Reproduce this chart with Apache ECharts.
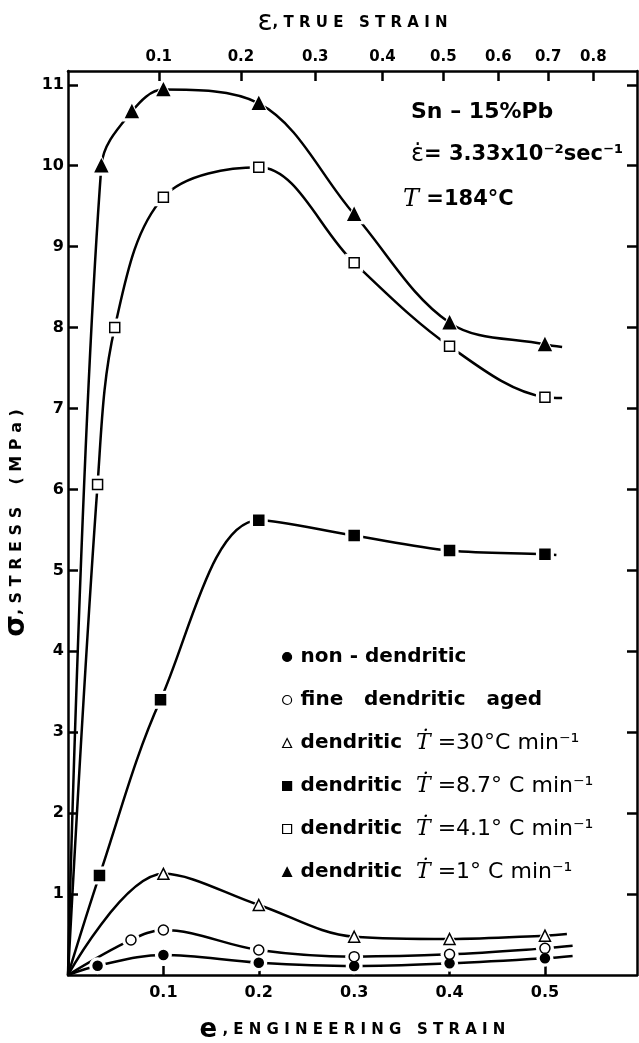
<!DOCTYPE html>
<html>
<head>
<meta charset="utf-8">
<script src="https://cdn.jsdelivr.net/npm/echarts@6/dist/echarts.min.js"></script>
<style>
  html, body { margin: 0; padding: 0; background: #fff; }
  #chart { width: 639px; height: 1043px; }
</style>
</head>
<body>
<div id="chart"></div>
<script>
// Stress vs. engineering strain for Sn-15%Pb at 184 °C, strain rate 3.33e-2 s^-1.
// Each structure: engineering strain (e) and flow stress (MPa) at the test points.
const nonDendriticStrain = [0.031, 0.1, 0.2, 0.3, 0.4, 0.5];
const nonDendriticStress = [0.115, 0.247, 0.152, 0.111, 0.144, 0.206];

const fineAgedStrain = [0.066, 0.1, 0.2, 0.3, 0.4, 0.5];
const fineAgedStress = [0.433, 0.556, 0.309, 0.227, 0.255, 0.329];

const cool30Strain = [0.1, 0.2, 0.3, 0.4, 0.5];
const cool30Stress = [1.25, 0.865, 0.473, 0.445, 0.486];

const cool87Strain = [0.033, 0.097, 0.2, 0.3, 0.4, 0.5];
const cool87Stress = [1.23, 3.40, 5.62, 5.43, 5.245, 5.20];

const cool41Strain = [0.031, 0.049, 0.1, 0.2, 0.3, 0.4, 0.5];
const cool41Stress = [6.06, 8.0, 9.61, 9.98, 8.80, 7.77, 7.14];

const cool1Strain = [0.035, 0.067, 0.1, 0.2, 0.3, 0.4, 0.5];
const cool1Stress = [10.0, 10.67, 10.94, 10.77, 9.40, 8.06, 7.79];

// Where each drawn curve stops, just past its last test point (same order as above)
const curveEndStrain = [0.529, 0.529, 0.523, 0.512, 0.518, 0.518];
const curveEndStress = [0.235, 0.36, 0.506, 5.19, 7.13, 7.76];

// Legend wording
const legendNames = [
  'non-dendritic',
  'fine dendritic aged',
  'dendritic 30',
  'dendritic 8.7',
  'dendritic 4.1',
  'dendritic 1'
];
const legendMain = ['non - dendritic', 'fine   dendritic   aged', 'dendritic', 'dendritic', 'dendritic', 'dendritic'];
const legendRates = ['', '', '=30°C min⁻¹', '=8.7° C min⁻¹', '=4.1° C min⁻¹', '=1° C min⁻¹'];

// Axis ticks
const engStrainTicks = [0.1, 0.2, 0.3, 0.4, 0.5];
const trueStrainTicks = [0.1, 0.2, 0.3, 0.4, 0.5, 0.6, 0.7, 0.8];
const stressTicks = [1, 2, 3, 4, 5, 6, 7, 8, 9, 10, 11];

const E_MAX = 0.5965;
const S_MAX = 11.17;
const FONT = '"DejaVu Sans", sans-serif';
const SERIF = '"DejaVu Serif", serif';

// true strain ε = -ln(1 - e)  ->  position on the engineering-strain scale
const trueStrainAt = trueStrainTicks.map(t => 1 - Math.exp(-t));

const structures = [
  { e: nonDendriticStrain, s: nonDendriticStress, symbol: 'circle',   size: 9,  fill: '#000' },
  { e: fineAgedStrain,     s: fineAgedStress,     symbol: 'circle',   size: 10, fill: '#fff' },
  { e: cool30Strain,       s: cool30Stress,       symbol: 'triangle', size: 11, fill: '#fff' },
  { e: cool87Strain,       s: cool87Stress,       symbol: 'rect',     size: 10, fill: '#000' },
  { e: cool41Strain,       s: cool41Stress,       symbol: 'rect',     size: 10, fill: '#fff' },
  { e: cool1Strain,        s: cool1Stress,        symbol: 'triangle', size: 12, fill: '#000' }
];

const series = [];
structures.forEach((st, i) => {
  const pts = st.e.map((x, k) => [x, st.s[k]]);
  // smooth curve from the origin through the test points
  series.push({
    type: 'line', name: 'curve ' + i,
    data: [[0, 0]].concat(pts, [[curveEndStrain[i], curveEndStress[i]]]),
    smooth: 0.35, showSymbol: false, symbol: 'none', silent: true,
    lineStyle: { color: '#000', width: 2.5, opacity: 1 }, z: 2
  });
  // white clearance around every marker
  series.push({
    type: 'scatter', name: 'clear ' + i, data: pts, silent: true,
    symbol: st.symbol, symbolSize: st.size + 8,
    itemStyle: { color: '#fff', opacity: 1 }, z: 3
  });
  series.push({
    type: 'scatter', name: legendNames[i], data: pts,
    symbol: st.symbol, symbolSize: st.size,
    itemStyle: { color: st.fill, borderColor: '#000', borderWidth: 1.5, opacity: 1 }, z: 4
  });
});

const chart = echarts.init(document.getElementById('chart'), null, { renderer: 'canvas' });
chart.setOption({
  backgroundColor: '#fff',
  animation: false,
  grid: { left: 68, right: 2, top: 71, bottom: 68, outerBoundsMode: 'none', containLabel: false },
  xAxis: [
    {
      type: 'value', position: 'bottom', min: 0, max: E_MAX,
      name: '{e|e}{t| , E N G I N E E R I N G   S T R A I N}',
      nameLocation: 'middle', nameGap: 42,
      nameTextStyle: {
        rich: {
          e: { fontFamily: FONT, fontWeight: 'bold', fontSize: 26, color: '#000' },
          t: { fontFamily: FONT, fontWeight: 'bold', fontSize: 15, color: '#000' }
        }
      },
      axisLine: { show: true, onZero: false, lineStyle: { color: '#000', width: 2.5 } },
      axisTick: { show: true, inside: true, length: 9, customValues: engStrainTicks, lineStyle: { color: '#000', width: 2.5 } },
      axisLabel: {
        show: true, customValues: engStrainTicks, margin: 10,
        formatter: v => v.toFixed(1),
        fontFamily: FONT, fontWeight: 'bold', fontSize: 16, color: '#000'
      },
      splitLine: { show: false }
    },
    {
      type: 'value', position: 'top', min: 0, max: E_MAX,
      name: '{e|ε}{t|, T R U E   S T R A I N}',
      nameLocation: 'middle', nameGap: 34,
      nameTextStyle: {
        rich: {
          e: { fontFamily: FONT, fontSize: 28, color: '#000' },
          t: { fontFamily: FONT, fontWeight: 'bold', fontSize: 15, color: '#000' }
        }
      },
      axisLine: { show: true, onZero: false, lineStyle: { color: '#000', width: 2.5 } },
      axisTick: { show: true, inside: true, length: 10, customValues: trueStrainAt, lineStyle: { color: '#000', width: 2.5 } },
      axisLabel: {
        show: true, customValues: trueStrainAt, margin: 6,
        formatter: v => (-Math.log(1 - v)).toFixed(1),
        fontFamily: FONT, fontWeight: 'bold', fontSize: 15, color: '#000'
      },
      splitLine: { show: false }
    }
  ],
  yAxis: [
    {
      type: 'value', position: 'left', min: 0, max: S_MAX,
      name: '{s|σ}{t|, S T R E S S    ( M P a )}',
      nameLocation: 'middle', nameGap: 34,
      nameTextStyle: {
        rich: {
          s: { fontFamily: FONT, fontWeight: 'bold', fontSize: 28, color: '#000' },
          t: { fontFamily: FONT, fontWeight: 'bold', fontSize: 16, color: '#000' }
        }
      },
      axisLine: { show: true, onZero: false, lineStyle: { color: '#000', width: 2.5 } },
      axisTick: { show: true, inside: true, length: 10, customValues: stressTicks, lineStyle: { color: '#000', width: 2.5 } },
      axisLabel: {
        show: true, customValues: stressTicks, margin: 4,
        fontFamily: FONT, fontWeight: 'bold', fontSize: 16, color: '#000'
      },
      splitLine: { show: false }
    },
    {
      type: 'value', position: 'right', min: 0, max: S_MAX,
      axisLine: { show: true, onZero: false, lineStyle: { color: '#000', width: 2.5 } },
      axisTick: { show: true, inside: true, length: 10, customValues: stressTicks, lineStyle: { color: '#000', width: 2.5 } },
      axisLabel: { show: false },
      splitLine: { show: false }
    }
  ],
  legend: {
    orient: 'vertical', left: 282, top: 646, padding: 0,
    data: legendNames,
    itemWidth: 9, itemHeight: 9, itemGap: 21,
    itemStyle: { borderColor: '#000', borderWidth: 1.2, opacity: 1 },
    selectedMode: false,
    formatter: name => {
      const i = legendNames.indexOf(name);
      if (!legendRates[i]) return '{b|' + legendMain[i] + '}{t| }';
      return '{b|' + legendMain[i] + '}{n|  }{t|Ṫ}{n| ' + legendRates[i] + '}';
    },
    textStyle: {
      padding: [0, 0, 0, 4],
      rich: {
        b: { fontFamily: FONT, fontWeight: 'bold', fontSize: 20, color: '#000' },
        n: { fontFamily: FONT, fontSize: 22, color: '#000' },
        t: { fontFamily: SERIF, fontStyle: 'italic', fontSize: 22, color: '#000' }
      }
    }
  },
  graphic: [
    {
      type: 'text', x: 411, y: 112,
      style: { text: 'Sn – 15%Pb', font: 'bold 22px ' + FONT, fill: '#000', verticalAlign: 'middle' }
    },
    {
      type: 'text', x: 411, y: 155,
      style: {
        text: '{e|ε\u0307}{b|= 3.33x10⁻²sec⁻¹}', verticalAlign: 'middle',
        rich: {
          e: { fontFamily: FONT, fontSize: 24, fill: '#000' },
          b: { fontFamily: FONT, fontWeight: 'bold', fontSize: 21, fill: '#000' }
        }
      }
    },
    {
      type: 'text', x: 403, y: 200,
      style: {
        text: '{t|T}{b| =184°C}', verticalAlign: 'middle',
        rich: {
          t: { fontFamily: SERIF, fontStyle: 'italic', fontSize: 24, fill: '#000' },
          b: { fontFamily: FONT, fontWeight: 'bold', fontSize: 21, fill: '#000' }
        }
      }
    }
  ],
  series: series
});
</script>
</body>
</html>
